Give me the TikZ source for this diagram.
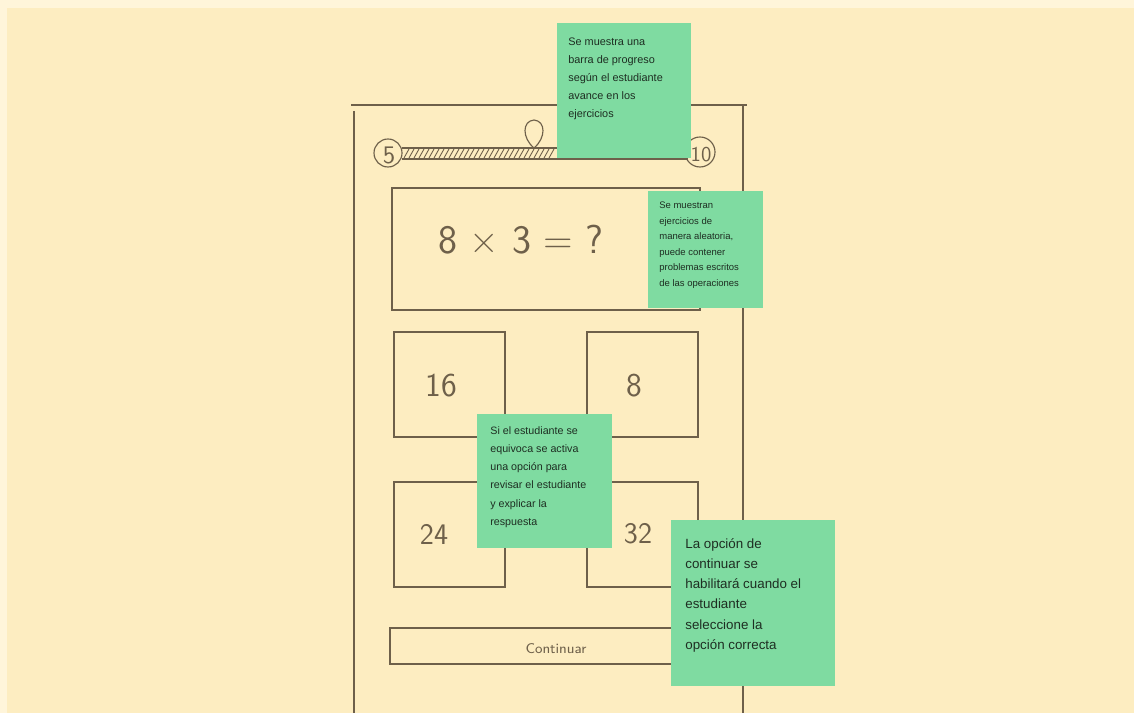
\documentclass[tikz,border=0pt]{standalone}
\usepackage{fontspec}
\setmainfont{Liberation Sans}
\definecolor{paper}{HTML}{FDEDC1}
\definecolor{margin}{HTML}{FFF5DA}
\definecolor{sticky}{HTML}{7FDBA1}
\definecolor{pencil}{HTML}{6E604A}
\definecolor{ink}{HTML}{1E2E22}
\tikzset{
  sketch/.style={draw=pencil, line width=0.65pt},
  frame/.style={draw=pencil, line width=0.9pt},
  hand/.style={text=pencil, font=\sffamily},
  notetext/.style={anchor=north west, inner sep=0pt, align=left, text=ink}
}
\begin{document}
\begin{tikzpicture}[x=0.02cm, y=-0.02cm]
  \useasboundingbox (0,0) rectangle (1134,713);

  % paper
  \fill[margin] (0,0) rectangle (1134,713);
  \fill[paper] (7,8) rectangle (1134,713);

  % phone frame
  \draw[frame] (351,105) -- (747,105);
  \draw[frame] (354,111) -- (354,713);
  \draw[frame] (743,105) -- (743,713);

  % progress bar
  \draw[sketch] (388,153) circle (14);
  \node[hand, font=\sffamily\Large] (stepFirst) at (389,155) {5};
  \draw[sketch] (402,148) -- (557,148);
  \draw[sketch] (402,159) -- (688,159);
  \foreach \x in {404,409,...,549}
    \draw[pencil, line width=0.5pt] (\x,158) -- (\x+5,149);
  % pin marking the current step
  \draw[sketch] (534,148) .. controls (522,138) and (522,121) .. (534,120)
                          .. controls (546,121) and (546,138) .. (534,148);
  \draw[sketch] (700,152) circle (15);
  \node[hand, font=\sffamily\large] (stepLast) at (701,155) {10};

  % exercise
  \draw[sketch] (392,188) rectangle (700,310);
  \node[hand, font=\sffamily\fontsize{23}{27}\selectfont] (exercise) at (521,240) {8 × 3 = ?};

  % answer options
  \draw[sketch] (394,332) rectangle (505,437);
  \draw[sketch] (587,332) rectangle (698,437);
  \draw[sketch] (394,482) rectangle (505,587);
  \draw[sketch] (587,482) rectangle (698,587);
  \node[hand, font=\sffamily\fontsize{19}{22}\selectfont] (optA) at (441,386) {16};
  \node[hand, font=\sffamily\fontsize{19}{22}\selectfont] (optB) at (634,386) {8};
  \node[hand, font=\sffamily\fontsize{17}{20}\selectfont] (optC) at (434,534) {24};
  \node[hand, font=\sffamily\fontsize{17}{20}\selectfont] (optD) at (638,534) {32};

  % continue button
  \draw[sketch] (390,628) rectangle (700,664);
  \node[hand, font=\sffamily\footnotesize] (continueLabel) at (556,649) {Continuar};

  % --- sticky notes ---

  % progress bar note
  \fill[sticky] (557,23) rectangle (691,158);
  \node[notetext, font=\fontsize{6.2}{10.2}\selectfont] (noteBar) at (568,38)
    {Se muestra una\\barra de progreso\\según el estudiante\\avance en los\\ejercicios};

  % exercise note
  \fill[sticky] (648,191) rectangle (763,308);
  \node[notetext, font=\fontsize{5.4}{8.8}\selectfont] (noteExercise) at (659,202)
    {Se muestran\\ejercicios de\\manera aleatoria,\\puede contener\\problemas escritos\\de las operaciones};

  % wrong answer note
  \fill[sticky] (477,414) rectangle (612,548);
  \node[notetext, font=\fontsize{6.1}{10.4}\selectfont] (noteWrong) at (490,426)
    {Si el estudiante se\\equivoca se activa\\una opción para\\revisar el estudiante\\y explicar la\\respuesta};

  % continue note
  \fill[sticky] (671,520) rectangle (835,686);
  \node[notetext, font=\fontsize{7.6}{11.5}\selectfont] (noteContinue) at (685,538)
    {La opción de\\continuar se\\habilitará cuando el\\estudiante\\seleccione la\\opción correcta};
\end{tikzpicture}
\end{document}
